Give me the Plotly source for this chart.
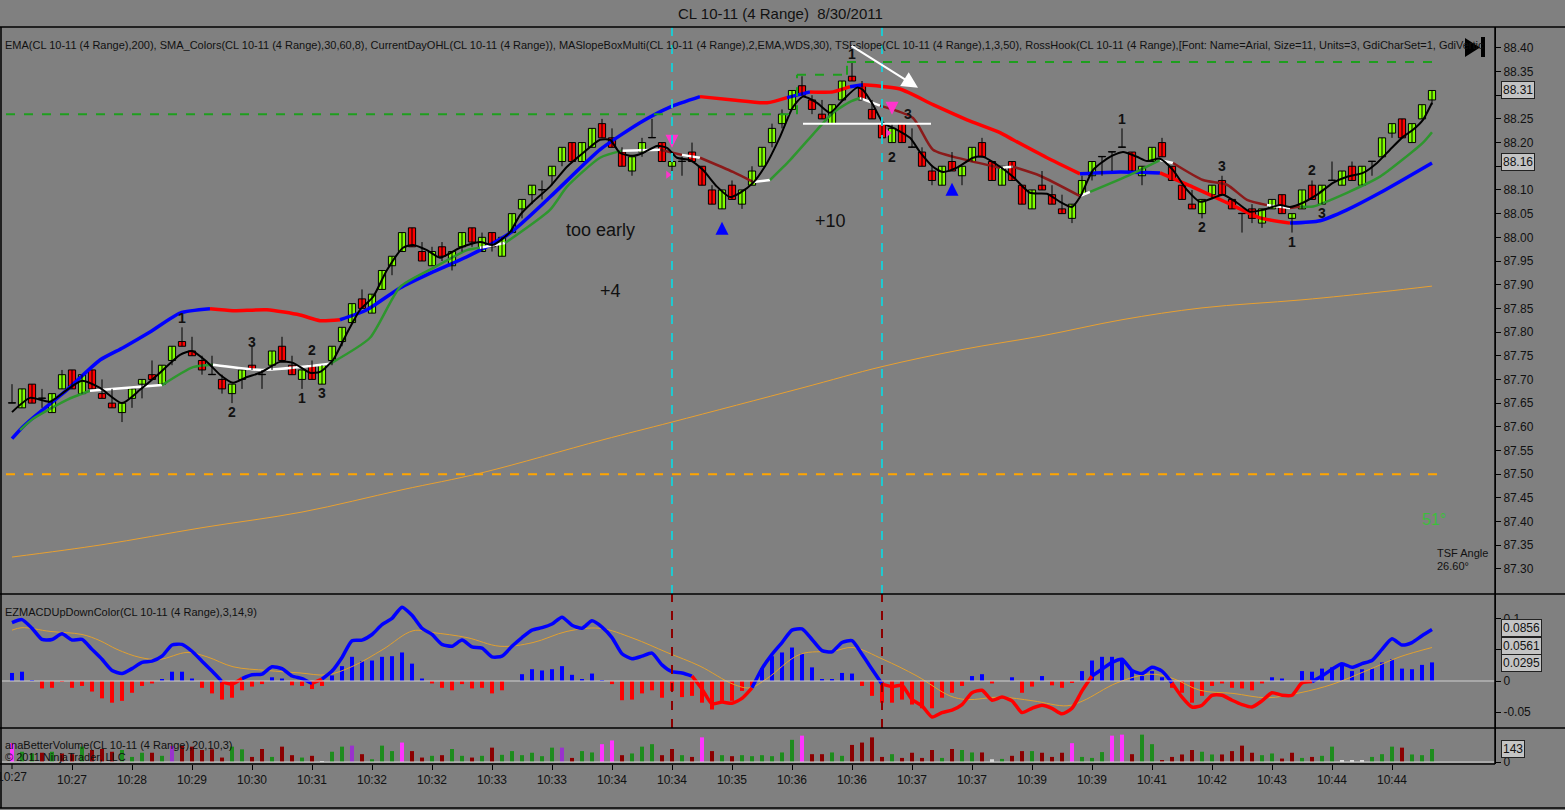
"""
CL 10-11 (4 Range) 8/30/2011 - NinjaTrader style chart rebuilt in plotly
price bars + MAs, EZMACD panel, BetterVolume panel
"""

import plotly.graph_objects as go
from plotly.subplots import make_subplots

W, H = 1565, 810
FONT = "Liberation Sans, Arial, sans-serif"
BG = "#808080"

# ---------------- price bars (one per 4-tick range bar) ----------------
opens = [87.65, 87.64, 87.69, 87.66, 87.63, 87.68, 87.72, 87.67, 87.72, 87.67,
         87.65, 87.63, 87.66, 87.69, 87.71, 87.69, 87.74, 87.78, 87.76, 87.74,
         87.71, 87.70, 87.67, 87.70, 87.73, 87.71, 87.73, 87.77, 87.73, 87.70,
         87.73, 87.69, 87.74, 87.78, 87.82, 87.87, 87.84, 87.89, 87.94, 87.97,
         88.02, 87.97, 87.94, 87.98, 87.94, 87.98, 88.02, 87.97, 88.01, 87.96,
         88.01, 88.06, 88.09, 88.10, 88.13, 88.16, 88.20, 88.16, 88.19, 88.24,
         88.21, 88.18, 88.14, 88.18, 88.21, 88.20, 88.15, 88.16, 88.18, 88.15,
         88.10, 88.06, 88.11, 88.07, 88.11, 88.15, 88.20, 88.24, 88.27, 88.32,
         88.29, 88.26, 88.24, 88.29, 88.34, 88.32, 88.27, 88.24, 88.20, 88.24,
         88.19, 88.18, 88.14, 88.11, 88.16, 88.13, 88.16, 88.20, 88.16, 88.11,
         88.16, 88.11, 88.06, 88.11, 88.09, 88.06, 88.04, 88.09, 88.13, 88.17,
         88.18, 88.19, 88.18, 88.13, 88.16, 88.20, 88.15, 88.11, 88.07, 88.05,
         88.09, 88.12, 88.08, 88.05, 88.06, 88.03, 88.06, 88.09, 88.04, 88.06,
         88.11, 88.07, 88.12, 88.11, 88.15, 88.11, 88.16, 88.17, 88.22, 88.25,
         88.20, 88.25, 88.29]
highs = [87.69, 87.68, 87.69, 87.68, 87.67, 87.72, 87.72, 87.71, 87.72, 87.70,
         87.68, 87.65, 87.68, 87.70, 87.74, 87.73, 87.77, 87.81, 87.79, 87.75,
         87.75, 87.71, 87.69, 87.72, 87.77, 87.72, 87.76, 87.79, 87.75, 87.72,
         87.74, 87.73, 87.77, 87.81, 87.86, 87.89, 87.88, 87.93, 87.96, 88.01,
         88.02, 87.99, 87.98, 87.99, 87.97, 88.01, 88.02, 88.01, 88.01, 88.00,
         88.05, 88.08, 88.11, 88.12, 88.15, 88.19, 88.20, 88.20, 88.23, 88.25,
         88.23, 88.19, 88.17, 88.21, 88.25, 88.20, 88.18, 88.17, 88.20, 88.15,
         88.11, 88.10, 88.12, 88.10, 88.15, 88.19, 88.24, 88.27, 88.31, 88.34,
         88.30, 88.29, 88.28, 88.33, 88.37, 88.33, 88.29, 88.25, 88.24, 88.24,
         88.23, 88.19, 88.15, 88.15, 88.18, 88.15, 88.19, 88.21, 88.16, 88.15,
         88.16, 88.11, 88.10, 88.14, 88.11, 88.09, 88.07, 88.13, 88.16, 88.17,
         88.18, 88.23, 88.18, 88.15, 88.19, 88.21, 88.15, 88.11, 88.10, 88.08,
         88.11, 88.13, 88.08, 88.05, 88.07, 88.06, 88.08, 88.09, 88.05, 88.10,
         88.12, 88.11, 88.16, 88.14, 88.16, 88.15, 88.16, 88.21, 88.24, 88.25,
         88.24, 88.28, 88.31]
lows = [87.65, 87.64, 87.65, 87.64, 87.63, 87.68, 87.68, 87.67, 87.68, 87.66,
        87.64, 87.61, 87.64, 87.66, 87.70, 87.69, 87.73, 87.77, 87.75, 87.71,
        87.71, 87.67, 87.65, 87.68, 87.72, 87.68, 87.72, 87.74, 87.71, 87.68,
        87.70, 87.69, 87.73, 87.77, 87.82, 87.85, 87.84, 87.89, 87.92, 87.97,
        87.98, 87.95, 87.94, 87.95, 87.93, 87.97, 87.98, 87.97, 87.97, 87.96,
        88.01, 88.04, 88.07, 88.08, 88.11, 88.15, 88.16, 88.16, 88.19, 88.21,
        88.19, 88.15, 88.13, 88.17, 88.21, 88.16, 88.14, 88.13, 88.16, 88.11,
        88.07, 88.06, 88.08, 88.06, 88.11, 88.15, 88.19, 88.23, 88.27, 88.30,
        88.26, 88.25, 88.24, 88.29, 88.33, 88.29, 88.25, 88.21, 88.20, 88.20,
        88.19, 88.15, 88.11, 88.11, 88.14, 88.11, 88.16, 88.17, 88.12, 88.11,
        88.12, 88.07, 88.06, 88.10, 88.07, 88.05, 88.03, 88.09, 88.12, 88.13,
        88.14, 88.19, 88.14, 88.11, 88.16, 88.17, 88.12, 88.08, 88.06, 88.04,
        88.08, 88.09, 88.06, 88.01, 88.03, 88.02, 88.06, 88.05, 88.01, 88.06,
        88.08, 88.07, 88.12, 88.11, 88.12, 88.11, 88.13, 88.17, 88.21, 88.21,
        88.20, 88.25, 88.28]
closes = [87.65, 87.68, 87.65, 87.66, 87.67, 87.71, 87.68, 87.71, 87.68, 87.66,
          87.64, 87.65, 87.68, 87.70, 87.70, 87.73, 87.77, 87.77, 87.75, 87.72,
          87.71, 87.68, 87.69, 87.72, 87.72, 87.71, 87.76, 87.74, 87.71, 87.72,
          87.70, 87.73, 87.77, 87.81, 87.86, 87.85, 87.88, 87.93, 87.96, 88.01,
          87.98, 87.95, 87.97, 87.96, 87.97, 88.01, 87.99, 88.00, 87.98, 88.00,
          88.05, 88.08, 88.11, 88.10, 88.15, 88.19, 88.16, 88.20, 88.23, 88.21,
          88.19, 88.15, 88.17, 88.20, 88.21, 88.16, 88.16, 88.16, 88.16, 88.11,
          88.07, 88.10, 88.08, 88.10, 88.14, 88.19, 88.23, 88.26, 88.31, 88.30,
          88.27, 88.25, 88.28, 88.33, 88.33, 88.29, 88.25, 88.21, 88.23, 88.20,
          88.19, 88.15, 88.12, 88.15, 88.14, 88.15, 88.19, 88.17, 88.12, 88.15,
          88.12, 88.07, 88.10, 88.10, 88.07, 88.05, 88.07, 88.12, 88.16, 88.17,
          88.18, 88.19, 88.14, 88.15, 88.19, 88.17, 88.12, 88.08, 88.06, 88.08,
          88.11, 88.09, 88.06, 88.05, 88.04, 88.06, 88.08, 88.05, 88.05, 88.10,
          88.08, 88.11, 88.12, 88.14, 88.12, 88.15, 88.16, 88.21, 88.24, 88.21,
          88.24, 88.28, 88.31]

# axis labels
time_tick_bars = [0, 6, 12, 18, 24, 30, 36, 42, 48, 54, 60, 66, 72, 78, 84, 90,
                  96, 102, 108, 114, 120, 126, 132, 138]
time_tick_text = ["10:27", "10:27", "10:28", "10:29", "10:30", "10:31", "10:32", "10:32",
                  "10:33", "10:33", "10:34", "10:34", "10:35", "10:36", "10:36", "10:37",
                  "10:37", "10:39", "10:39", "10:41", "10:42", "10:43", "10:44", "10:44"]
price_ticks = [87.30, 87.35, 87.40, 87.45, 87.50, 87.55, 87.60, 87.65, 87.70, 87.75, 87.80,
               87.85, 87.90, 87.95, 88.00, 88.05, 88.10, 88.15, 88.20, 88.25, 88.30, 88.35, 88.40]
macd_ticks = [-0.05, 0, 0.05, 0.1]
macd_tick_text = ["-0.05", "0", "0.05", "0.1"]

# EMA 200 (thin orange)
ema200_x = [0, 9, 19, 29, 39, 47, 59, 66, 79, 87, 95, 103, 111, 119, 129, 137, 142]
ema200_y = [87.325, 87.351, 87.387, 87.420, 87.467, 87.503, 87.572, 87.610, 87.682,
            87.727, 87.763, 87.792, 87.826, 87.851, 87.868, 87.885, 87.897]

# SMA_Colors slow line (blue = up slope, red = down slope)
slow_x = [0, 1, 2.1, 5.5, 8.8, 11.1, 13.8, 16.8, 19.8, 22.1, 25.5, 28.8, 30.8, 32.8,
          35.5, 38.8, 42.1, 45.5, 49.8, 53.8, 58.8, 62.8, 65.8, 68.8, 72.1, 75.5, 77.5,
          79.8, 82.1, 83.8, 85.1, 88.8, 92.1, 95.5, 98.8, 100.1, 103.5, 106.8, 110.8,
          114.8, 118.1, 121.5, 124.8, 127.8, 130.8, 133.5, 136.8, 142]
slow_y = [87.575, 87.598, 87.619, 87.678, 87.741, 87.767, 87.800, 87.840, 87.849,
          87.845, 87.847, 87.836, 87.824, 87.826, 87.847, 87.893, 87.927, 87.959,
          88.009, 88.085, 88.185, 88.242, 88.275, 88.297, 88.290, 88.284, 88.295,
          88.307, 88.307, 88.318, 88.322, 88.313, 88.280, 88.248, 88.221, 88.206,
          88.168, 88.134, 88.138, 88.136, 88.106, 88.073, 88.041, 88.030, 88.035,
          88.058, 88.094, 88.157]
slow_state = "bbbbbbbbrrrrrbbbbbbbbbbrrrbrrbrrrrrrrbbrrrrbbbbb"

# SMA_Colors mid line (g = rising, m = falling, w = flat)
mid_x = [0.8, 2.1, 5.5, 7.8, 15, 18.1, 20.1, 25, 31.8, 35.8, 38.8, 42.1, 45.5, 46.8,
         49.3, 53.8, 55.5, 58.8, 61, 64.8, 67, 68.8, 72.1, 74.1, 75.8, 77.8, 80.5,
         82.1, 83.8, 84.8, 86.8, 90.1, 92.1, 95.5, 98.8, 100.1, 102.8, 106.8, 107.8,
         111.8, 114.8, 116.1, 119.1, 121.5, 123.5, 125.5, 127.8, 128.8, 130.1, 133.5,
         136.8, 141.1, 142]
mid_y = [87.593, 87.617, 87.657, 87.676, 87.688, 87.726, 87.731, 87.720, 87.733,
         87.788, 87.895, 87.935, 87.973, 87.978, 87.988, 88.058, 88.107, 88.168,
         88.183, 88.185, 88.174, 88.168, 88.138, 88.117, 88.121, 88.163, 88.227,
         88.263, 88.286, 88.294, 88.278, 88.252, 88.185, 88.163, 88.147, 88.149,
         88.130, 88.087, 88.096, 88.132, 88.163, 88.157, 88.121, 88.111, 88.079,
         88.068, 88.062, 88.065, 88.065, 88.094, 88.128, 88.200, 88.222]
mid_state = "gggwggwwgggggwggggwmwmmwgggggwmmmmwmmwggwmmmmwmgggggg"

# fast line (black)
fast_x = [0, 1.8, 3.8, 5.5, 7, 8.8, 11, 12.8, 14.8, 16.8, 18, 19.5, 20.8, 22.1, 23.5,
          24.8, 26.8, 28.1, 29.8, 30.8, 32.1, 33.5, 34.8, 36.1, 37.5, 39.1, 40.1, 41.5,
          42.8, 44.8, 46.8, 48.1, 49.8, 50.8, 52.1, 53.8, 55.5, 57.1, 58.8, 59.8, 60.8,
          62.1, 63.1, 64.5, 65.5, 66.5, 67.8, 69.1, 70.5, 71.8, 72.8, 74.1, 75.5, 76.8,
          78.1, 79.1, 80.5, 81.8, 83.1, 84.5, 85.1, 86.1, 87.1, 88.5, 89.8, 90.8, 92.1,
          93.1, 94.5, 96.1, 97.1, 98.8, 100.1, 101.8, 103.5, 104.8, 106, 106.8, 108.1,
          109.8, 111.1, 112.5, 113.5, 114.8, 116.1, 117.5, 118.8, 120.1, 121.1, 122.5,
          123.8, 125.1, 126.8, 127.8, 129.1, 130.5, 132.1, 133.5, 135.1, 136.5, 137.8,
          139.1, 140.1, 141.1, 142]
fast_y = [87.631, 87.661, 87.653, 87.678, 87.697, 87.682, 87.650, 87.678, 87.714,
          87.752, 87.760, 87.737, 87.710, 87.693, 87.705, 87.714, 87.737, 87.735,
          87.714, 87.716, 87.741, 87.798, 87.847, 87.874, 87.931, 87.978, 87.984,
          87.973, 87.957, 87.978, 87.990, 87.984, 88.011, 88.047, 88.075, 88.107,
          88.149, 88.178, 88.206, 88.206, 88.178, 88.172, 88.178, 88.193, 88.189,
          88.168, 88.163, 88.142, 88.107, 88.085, 88.094, 88.115, 88.157, 88.212,
          88.275, 88.297, 88.284, 88.263, 88.290, 88.316, 88.311, 88.280, 88.242,
          88.227, 88.210, 88.180, 88.149, 88.138, 88.147, 88.168, 88.170, 88.149,
          88.128, 88.094, 88.092, 88.075, 88.064, 88.085, 88.142, 88.170, 88.180,
          88.170, 88.161, 88.166, 88.142, 88.100, 88.075, 88.083, 88.090, 88.073,
          88.054, 88.058, 88.068, 88.064, 88.073, 88.090, 88.115, 88.128, 88.136,
          88.157, 88.185, 88.212, 88.227, 88.248, 88.284]

# CurrentDayOHL levels
day_high_levels = [88.26, 88.343, 88.37]
day_high_steps = [78.5, 83.5]
day_low = 87.50

# RossHook labels
hook_x = [17, 24, 22, 29, 30, 31, 84, 89.6, 88, 111, 121, 119, 130, 131, 128]
hook_y = [87.830, 87.779, 87.631, 87.661, 87.762, 87.672, 88.387, 88.261, 88.170,
          88.250, 88.151, 88.022, 88.142, 88.052, 87.990]
hook_t = ["1", "3", "2", "1", "2", "3", "1", "3", "2", "1", "3", "2", "2", "3", "1"]

# signal arrows
buy_x, buy_y = [71, 94], [88.033, 88.115]
sell_x, sell_y = [66, 88], [88.189, 88.259]
tri_x, tri_y = [65.6, 87.6], [88.132, 88.220]
entry_bars = [66, 87]

# ---------------- EZMACD ----------------
macd = [0.094, 0.099, 0.085, 0.067, 0.067, 0.076, 0.066, 0.067, 0.051, 0.035,
        0.017, 0.012, 0.020, 0.030, 0.032, 0.040, 0.058, 0.059, 0.048, 0.032,
        0.016, -0.001, -0.005, 0.004, 0.010, 0.011, 0.023, 0.020, 0.008, 0.004,
        -0.004, 0.003, 0.016, 0.038, 0.065, 0.066, 0.075, 0.091, 0.101, 0.119,
        0.106, 0.085, 0.075, 0.059, 0.056, 0.066, 0.055, 0.053, 0.039, 0.040,
        0.056, 0.070, 0.082, 0.086, 0.092, 0.103, 0.090, 0.085, 0.097, 0.087,
        0.070, 0.044, 0.036, 0.040, 0.045, 0.026, 0.015, 0.013, 0.008, -0.013,
        -0.037, -0.034, -0.036, -0.028, -0.011, 0.020, 0.043, 0.062, 0.082, 0.084,
        0.067, 0.049, 0.047, 0.062, 0.065, 0.043, 0.019, -0.005, -0.009, -0.007,
        -0.030, -0.040, -0.058, -0.051, -0.047, -0.038, -0.019, -0.015, -0.031, -0.026,
        -0.032, -0.051, -0.044, -0.039, -0.044, -0.053, -0.044, -0.016, 0.008, 0.019,
        0.030, 0.035, 0.017, 0.012, 0.022, 0.016, -0.003, -0.026, -0.042, -0.039,
        -0.023, -0.023, -0.031, -0.038, -0.042, -0.032, -0.019, -0.023, -0.023, -0.003,
        -0.001, 0.008, 0.019, 0.028, 0.022, 0.028, 0.033, 0.051, 0.068, 0.058,
        0.062, 0.073, 0.083]
macd_hist = [0.013, 0.015, 0.001, -0.012, -0.011, -0.001, -0.011, -0.008, -0.017, -0.028,
             -0.035, -0.032, -0.019, -0.008, -0.004, 0.002, 0.015, 0.015, 0.004, -0.011,
             -0.020, -0.030, -0.027, -0.015, -0.009, -0.005, 0.006, 0.004, -0.007, -0.008,
             -0.013, -0.008, 0.009, 0.024, 0.039, 0.032, 0.033, 0.039, 0.040, 0.046,
             0.028, 0.004, -0.004, -0.011, -0.015, -0.005, -0.012, -0.011, -0.020, -0.015,
             0.000, 0.011, 0.019, 0.017, 0.019, 0.024, 0.010, 0.003, 0.012, 0.001,
             -0.005, -0.031, -0.030, -0.020, -0.015, -0.027, -0.016, -0.026, -0.024, -0.035,
             -0.046, -0.032, -0.032, -0.016, -0.008, 0.021, 0.040, 0.046, 0.054, 0.044,
             0.022, 0.002, 0.002, 0.013, 0.012, -0.008, -0.024, -0.035, -0.035, -0.030,
             -0.038, -0.044, -0.044, -0.027, -0.019, -0.008, 0.008, 0.011, -0.004, 0.000,
             0.006, -0.019, -0.009, 0.008, -0.007, -0.011, -0.003, 0.016, 0.033, 0.039,
             0.039, 0.035, 0.016, 0.008, 0.016, 0.006, -0.011, -0.019, -0.035, -0.024,
             -0.008, -0.004, -0.011, -0.012, -0.015, -0.004, 0.006, 0.004, 0.000, 0.016,
             0.015, 0.020, 0.022, 0.028, 0.016, 0.019, 0.020, 0.030, 0.035, 0.020,
             0.019, 0.026, 0.030]
signal_x = [0, 1, 3.8, 7, 8.8, 10.5, 12.8, 14.8, 17.5, 19.5, 22.1, 25.5, 28.8, 31.5,
            34.1, 37.1, 40.1, 42.1, 45.5, 48.8, 52.1, 55.5, 58.8, 62.1, 65.5, 68.8,
            72.1, 73.8, 75.5, 78.8, 82.1, 84.1, 87.1, 90.5, 93.8, 95.5, 98.8, 102.1,
            105.5, 107.1, 110.5, 113.8, 116.1, 118.8, 122.1, 125.5, 128.8, 132.1,
            135.5, 138.8, 142]
signal_y = [0.082, 0.086, 0.080, 0.075, 0.065, 0.051, 0.038, 0.035, 0.046, 0.039,
            0.023, 0.017, 0.013, 0.010, 0.024, 0.051, 0.081, 0.078, 0.070, 0.056,
            0.062, 0.080, 0.085, 0.069, 0.046, 0.024, -0.005, -0.011, 0.004, 0.043,
            0.048, 0.054, 0.035, 0.008, -0.024, -0.030, -0.026, -0.032, -0.040, -0.032,
            -0.003, 0.011, 0.004, -0.015, -0.020, -0.027, -0.019, -0.005, 0.017, 0.039,
            0.054]

# ---------------- BetterVolume ----------------
volume = [207, 113, 94, 102, 113, 94, 86, 169, 132, 143,
          113, 132, 56, 102, 102, 68, 177, 177, 169, 132,
          139, 49, 169, 139, 56, 143, 56, 169, 75, 49,
          68, 11, 113, 169, 180, 86, 30, 180, 120, 214,
          120, 49, 68, 75, 143, 68, 49, 68, 158, 79,
          120, 75, 102, 64, 158, 158, 45, 120, 105, 196,
          237, 75, 94, 169, 196, 75, 143, 75, 56, 271,
          120, 75, 64, 75, 64, 75, 64, 105, 244, 290,
          86, 86, 105, 68, 188, 214, 271, 56, 86, 45,
          102, 45, 132, 45, 143, 132, 105, 105, 30, 34,
          68, 120, 120, 102, 56, 102, 207, 56, 45, 109,
          290, 301, 86, 301, 196, 19, 56, 83, 132, 113,
          83, 83, 120, 180, 102, 75, 94, 38, 102, 45,
          56, 68, 169, 12, 12, 12, 56, 86, 169, 158,
          83, 75, 143]
# g = up, r = down, m = climax, p = churn, w = low volume
vol_type = ("mggrgrrgrr" "rgggrgprrr" "rrggrrgrrg" "rwggprgggm" "rrgrggrgrg"
            "gggggprggm" "mrgggrrgrm" "rgrggggggm" "rrggrrrrgr" "rrrgrggrwg"
            "rrgrrrmggg" "mmrggrrrrg" "grrrrggrrg" "rggwwwgggr" "ggg")

vol_colors = {"g": "#1E8C1E", "r": "#8B0000", "m": "#FF33FF", "p": "#9932CC", "w": "#D8D8D8"}
slow_colors = {"b": "#0000FF", "r": "#FF0000"}
mid_colors = {"g": "#2E962E", "m": "#8B1A1A", "w": "#FFFFFF"}


def px(x):
    return x / W


def py(y):
    return 1 - y / H


def add_segments(fig, xs, ys, states, cmap, width, row):
    """draw a line split into runs of the same state colour"""
    start = 0
    for i in range(1, len(xs)):
        if i == len(xs) - 1 or states[i] != states[start]:
            fig.add_trace(go.Scatter(
                x=xs[start:i + 1], y=ys[start:i + 1], mode="lines",
                line=dict(color=cmap[states[start]], width=width, shape="spline", smoothing=0.6),
                hoverinfo="skip", showlegend=False), row=row, col=1)
            start = i


fig = make_subplots(rows=3, cols=1, shared_xaxes=True, vertical_spacing=0)
n = len(closes)
bars = list(range(n))

# EMA 200
fig.add_trace(go.Scatter(x=ema200_x, y=ema200_y, mode="lines",
                         line=dict(color="#E8A030", width=1, shape="spline"),
                         hoverinfo="skip", showlegend=False), row=1, col=1)

# moving averages
add_segments(fig, slow_x, slow_y, slow_state, slow_colors, 3.5, 1)
add_segments(fig, mid_x, mid_y, mid_state, mid_colors, 2.5, 1)

# wicks
wx, wy = [], []
for i in bars:
    wx += [i, i, None]
    wy += [lows[i], highs[i], None]
fig.add_trace(go.Scatter(x=wx, y=wy, mode="lines", line=dict(color="black", width=1),
                         hoverinfo="skip", showlegend=False), row=1, col=1)

# bodies
for kind, color in [("up", "#80FF00"), ("down", "#FF0000"), ("doji", "black")]:
    xs, base, hgt = [], [], []
    for i in bars:
        o, c = opens[i], closes[i]
        k = "up" if c > o else ("down" if c < o else "doji")
        if k != kind:
            continue
        xs.append(i)
        base.append(min(o, c))
        hgt.append(max(abs(c - o), 0.0008))
    fig.add_trace(go.Bar(x=xs, y=hgt, base=base, width=0.72,
                         marker=dict(color=color, line=dict(color="black", width=1)),
                         hoverinfo="skip", showlegend=False), row=1, col=1)

# fast line
fig.add_trace(go.Scatter(x=fast_x, y=fast_y, mode="lines",
                         line=dict(color="black", width=2, shape="spline", smoothing=0.6),
                         hoverinfo="skip", showlegend=False), row=1, col=1)

# signal markers
fig.add_trace(go.Scatter(x=buy_x, y=buy_y, mode="markers",
                         marker=dict(symbol="arrow-up", size=13, color="#0000FF", line=dict(width=0)),
                         hoverinfo="skip", showlegend=False), row=1, col=1)
fig.add_trace(go.Scatter(x=sell_x, y=sell_y, mode="markers",
                         marker=dict(symbol="arrow-down", size=13, color="#FF33CC", line=dict(width=0)),
                         hoverinfo="skip", showlegend=False), row=1, col=1)
fig.add_trace(go.Scatter(x=tri_x, y=tri_y, mode="markers",
                         marker=dict(symbol="triangle-right", size=7, color="#FF33CC", line=dict(width=0)),
                         hoverinfo="skip", showlegend=False), row=1, col=1)

# MACD histogram
fig.add_trace(go.Bar(x=bars, y=macd_hist, width=0.4,
                     marker=dict(color=["#0000FF" if v >= 0 else "#FF0000" for v in macd_hist], line=dict(width=0)),
                     hoverinfo="skip", showlegend=False), row=2, col=1)
fig.add_trace(go.Scatter(x=signal_x, y=signal_y, mode="lines",
                         line=dict(color="#E0A030", width=1, shape="spline"),
                         hoverinfo="skip", showlegend=False), row=2, col=1)
macd_state = ["r" if (macd[i] + macd[min(i + 1, n - 1)]) / 2 < 0 else "b" for i in bars]
add_segments(fig, bars, macd, macd_state, slow_colors, 3.5, 2)

# volume
fig.add_trace(go.Bar(x=bars, y=volume, width=0.4,
                     marker=dict(color=[vol_colors[t] for t in vol_type], line=dict(width=0)),
                     hoverinfo="skip", showlegend=False), row=3, col=1)

# ---------------- shapes ----------------
shapes = []
# day high steps / day low
edges = [-0.6] + day_high_steps + [142.5]
for k, lvl in enumerate(day_high_levels):
    shapes.append(dict(type="line", xref="x", yref="y", x0=edges[k], x1=edges[k + 1], y0=lvl, y1=lvl,
                       line=dict(color="#1E9E1E", width=2, dash="dash")))
    if k > 0:
        shapes.append(dict(type="line", xref="x", yref="y", x0=edges[k], x1=edges[k], y0=day_high_levels[k - 1],
                           y1=lvl, line=dict(color="#1E9E1E", width=2, dash="dash")))
shapes.append(dict(type="line", xref="x", yref="y", x0=-0.6, x1=142.5, y0=day_low, y1=day_low,
                   line=dict(color="#FFA500", width=2, dash="dash")))
# hook box
shapes.append(dict(type="line", xref="x", yref="y", x0=79.1, x1=91.9, y0=88.24, y1=88.24,
                   line=dict(color="white", width=2)))
# entry markers
for b in entry_bars:
    shapes.append(dict(type="line", xref="x", yref="y domain", x0=b, x1=b, y0=0, y1=1,
                       line=dict(color="#20C8D0", width=2, dash="dash")))
    shapes.append(dict(type="line", xref="x2", yref="y2 domain", x0=b, x1=b, y0=0, y1=1,
                       line=dict(color="#8B0000", width=2, dash="dash")))
# zero lines
shapes.append(dict(type="line", xref="x2 domain", yref="y2", x0=0, x1=1, y0=0, y1=0,
                   line=dict(color="#D0D0D0", width=1)))
shapes.append(dict(type="line", xref="x3 domain", yref="y3", x0=0, x1=1, y0=0, y1=0,
                   line=dict(color="#D0D0D0", width=1)))
# panel frames
frame = dict(color="black", width=1.5)
for yy in [27, 594, 728]:
    shapes.append(dict(type="line", xref="paper", yref="paper", x0=0, x1=1, y0=py(yy), y1=py(yy), line=frame))
shapes.append(dict(type="line", xref="paper", yref="paper", x0=0, x1=px(1495), y0=py(764), y1=py(764), line=frame))
shapes.append(dict(type="line", xref="paper", yref="paper", x0=px(1495), x1=px(1495), y0=py(27), y1=py(764), line=frame))
shapes.append(dict(type="line", xref="paper", yref="paper", x0=px(1), x1=px(1), y0=py(27), y1=py(808), line=frame))
shapes.append(dict(type="line", xref="paper", yref="paper", x0=0, x1=1, y0=py(808), y1=py(808), line=frame))
# go-to-end icon
shapes.append(dict(type="path", xref="paper", yref="paper",
                   path=f"M {px(1465)} {py(38)} L {px(1465)} {py(57)} L {px(1480)} {py(47.5)} Z",
                   fillcolor="black", line=dict(width=0)))
shapes.append(dict(type="rect", xref="paper", yref="paper", x0=px(1481), x1=px(1485), y0=py(57), y1=py(37),
                   fillcolor="black", line=dict(width=0)))

# ---------------- annotations ----------------
ann = []
ann.append(dict(xref="paper", yref="paper", x=px(780), y=py(13), yanchor="middle",
                text="CL 10-11 (4 Range)\u00a0 8/30/2011",
                showarrow=False, font=dict(size=15, color="#111111")))
header = ("EMA(CL 10-11 (4 Range),200), SMA_Colors(CL 10-11 (4 Range),30,60,8), CurrentDayOHL(CL 10-11 (4 Range)), "
          "MASlopeBoxMulti(CL 10-11 (4 Range),2,EMA,WDS,30), TSFslope(CL 10-11 (4 Range),1,3,50), "
          "RossHook(CL 10-11 (4 Range),[Font: Name=Arial, Size=11, Units=3, GdiCharSet=1, GdiVertic")
ann.append(dict(xref="paper", yref="paper", x=px(3), y=py(45), xanchor="left", yanchor="middle",
                text=header, showarrow=False, font=dict(size=11, color="#111111")))
ann.append(dict(xref="paper", yref="paper", x=px(3), y=py(612), xanchor="left", yanchor="middle",
                text="EZMACDUpDownColor(CL 10-11 (4 Range),3,14,9)", showarrow=False,
                font=dict(size=11, color="#111111")))
ann.append(dict(xref="paper", yref="paper", x=px(3), y=py(745), xanchor="left", yanchor="middle",
                text="anaBetterVolume(CL 10-11 (4 Range),20,10,3)", showarrow=False,
                font=dict(size=11, color="#111111")))
ann.append(dict(xref="paper", yref="paper", x=px(3), y=py(757), xanchor="left", yanchor="middle",
                text="© 2011 NinjaTrader, LLC", showarrow=False, font=dict(size=11, color="#111111")))
# first time label sits half off the left edge (as in the original)
ann.append(dict(xref="x3", yref="paper", x=time_tick_bars[0], y=py(777), yanchor="middle",
                text=time_tick_text[0], showarrow=False, font=dict(size=12, color="#111111")))

for x, y, t in zip(hook_x, hook_y, hook_t):
    ann.append(dict(xref="x", yref="y", x=x, y=y, text=f"<b>{t}</b>", showarrow=False,
                    font=dict(size=14, color="#111111")))

ann.append(dict(xref="x", yref="y", x=58.8, y=88.016, text="too early", showarrow=False,
                font=dict(size=18, color="#111111")))
ann.append(dict(xref="x", yref="y", x=59.8, y=87.887, text="+4", showarrow=False,
                font=dict(size=18, color="#111111")))
ann.append(dict(xref="x", yref="y", x=81.8, y=88.035, text="+10", showarrow=False,
                font=dict(size=18, color="#111111")))
ann.append(dict(xref="x", yref="y", x=90.6, y=88.316, ax=83.8, ay=88.406, axref="x", ayref="y",
                text="", showarrow=True, arrowhead=2, arrowsize=1.6, arrowwidth=2, arrowcolor="white"))

ann.append(dict(xref="paper", yref="paper", x=px(1448), y=py(519), yanchor="middle", text="51°",
                showarrow=False, font=dict(size=16, color="#3CBE3C")))
ann.append(dict(xref="paper", yref="paper", x=px(1435), y=py(553), xanchor="left", yanchor="middle",
                text="TSF Angle", showarrow=False, font=dict(size=11, color="#111111")))
ann.append(dict(xref="paper", yref="paper", x=px(1435), y=py(566), xanchor="left", yanchor="middle",
                text="26.60°", showarrow=False, font=dict(size=11, color="#111111")))

# last-value boxes on the right axis
price_boxes = [(88.31, "88.31"), (88.16, "88.16")]
macd_boxes = [(0.0856, "0.0856"), (0.0561, "0.0561"), (0.0295, "0.0295")]
vol_boxes = [(143, "143")]
for yref, boxes in [("y", price_boxes), ("y2", macd_boxes), ("y3", vol_boxes)]:
    for v, t in boxes:
        ann.append(dict(xref="paper", yref=yref, x=px(1501), y=v, xanchor="left", yanchor="middle",
                        text=t, showarrow=False, bgcolor="#C4C4C4", bordercolor="#222222", borderwidth=1,
                        borderpad=1, font=dict(size=12, color="#111111")))

# ---------------- layout ----------------
xdom = [px(2), px(1495)]
fig.update_layout(
    width=W, height=H, margin=dict(l=0, r=0, t=0, b=0, autoexpand=False),
    paper_bgcolor=BG, plot_bgcolor=BG, barmode="overlay", showlegend=False,
    font=dict(family=FONT, size=12, color="#111111"),
    shapes=shapes, annotations=ann,
)
axis_common = dict(showgrid=False, zeroline=False, range=[-1, 148.3], domain=xdom, automargin=False)
fig.update_layout(
    xaxis=dict(**axis_common, showticklabels=False, ticks=""),
    xaxis2=dict(**axis_common, showticklabels=False, ticks=""),
    xaxis3=dict(**axis_common, tickmode="array", tickvals=time_tick_bars[1:], ticktext=time_tick_text[1:],
                ticks="outside", ticklen=5, tickcolor="black", tickfont=dict(size=12, color="#111111")),
)
yax = dict(side="right", showgrid=False, zeroline=False, ticks="outside", ticklen=5, tickcolor="black",
           showline=True, linecolor="black", linewidth=1, automargin=False,
           tickfont=dict(size=12, color="#111111"))
fig.update_layout(
    yaxis=dict(**yax, domain=[py(594), py(27)], range=[87.247, 88.444], tickmode="array",
               tickvals=price_ticks, tickformat=".2f"),
    yaxis2=dict(**yax, domain=[py(728), py(594)], range=[-0.0758, 0.1403], tickmode="array",
                tickvals=macd_ticks, ticktext=macd_tick_text),
    yaxis3=dict(**yax, domain=[py(764), py(728)], range=[-22, 374], tickmode="array",
                tickvals=[0], ticktext=["0"]),
)
# tick mark for the first (half hidden) time label
shapes.append(dict(type="line", xref="x3", yref="paper", x0=time_tick_bars[0], x1=time_tick_bars[0],
                   y0=py(764), y1=py(769), line=dict(color="black", width=1)))
fig.update_layout(shapes=shapes)

# page body margin off so the chart sits at the window's top-left corner
fig.write_html("out.html", config={"displayModeBar": False},
               post_script="document.body.style.margin='0';")
